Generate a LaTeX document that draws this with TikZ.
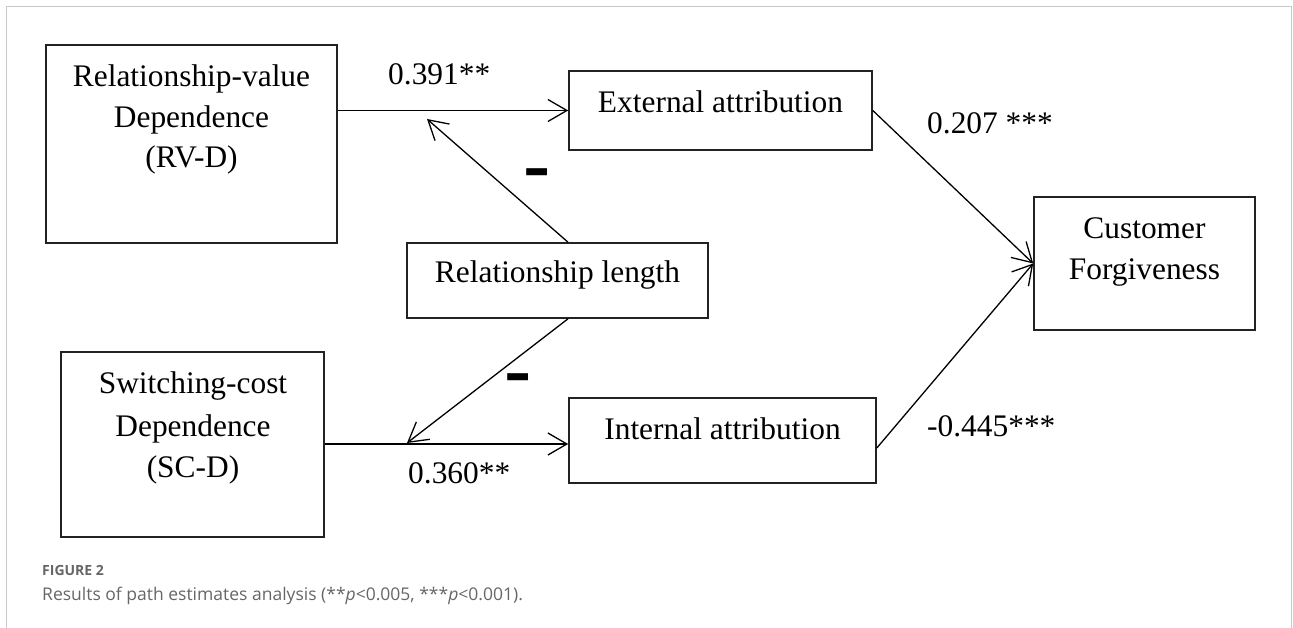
\documentclass[tikz,border=0pt]{standalone}
\usepackage{fontspec}
\usepackage{graphicx}
\setmainfont{Liberation Serif}
\newfontfamily\capfont{Open Sans}
\newfontfamily\dashfont{Liberation Sans}
\usetikzlibrary{arrows.meta}
\definecolor{boxline}{HTML}{222222}
\definecolor{framegray}{HTML}{C8C8C8}
\definecolor{capgray}{HTML}{666666}
\begin{document}
\begin{tikzpicture}[x=1pt,y=-1pt,
  box/.style={draw=boxline,line width=1.6pt,inner sep=0pt},
  txt/.style={font=\fontsize{31.4}{38}\selectfont,anchor=base,inner sep=0pt},
  lbl/.style={font=\fontsize{31.4}{38}\selectfont,anchor=base west,inner sep=0pt},
  conn/.style={line width=1.3pt,draw=black},
  arr/.style={conn,-{Straight Barb[length=19pt,width=22pt,line width=1.3pt]}},
  neg/.style={font=\dashfont\bfseries\fontsize{59}{59}\selectfont,inner sep=0pt,anchor=base west}
]
\useasboundingbox (0,0) rectangle (1293,628);
% frame
\draw[framegray,line width=1.5pt] (6.5,628) -- (6.5,6.5) -- (1291.5,6.5) -- (1291.5,628);

% boxes
\node[box,minimum width=291pt,minimum height=198pt] (rvd) at (191.5,144) {};
\node[box,minimum width=303pt,minimum height=79pt] (ext) at (720.5,110.5) {};
\node[box,minimum width=301pt,minimum height=75pt] (rl) at (557.5,280.5) {};
\node[box,minimum width=221pt,minimum height=133pt] (cf) at (1144.5,263.5) {};
\node[box,minimum width=263pt,minimum height=185pt] (scd) at (192.5,444.5) {};
\node[box,minimum width=307pt,minimum height=85pt] (int) at (722.5,440.5) {};

% box texts
\node[txt] (rvdA) at (191.5,87) {Relationship-value};
\node[txt] (rvdB) at (191.5,127.5) {Dependence};
\node[txt] (rvdC) at (191.5,168) {(RV-D)};
\node[txt] (extA) at (720.5,112.7) {External attribution};
\node[txt] (rlA) at (557.5,283) {Relationship length};
\node[txt] (cfA) at (1144.5,238.3) {Customer};
\node[txt] (cfB) at (1144.5,279.3) {Forgiveness};
\node[txt] (scdA) at (193,393.3) {Switching-cost};
\node[txt] (scdB) at (193,436.5) {Dependence};
\node[txt] (scdC) at (193,477) {(SC-D)};
\node[txt] (intA) at (722.5,439.3) {Internal attribution};

% free ends of moderating arrows
\coordinate (m1) at (427,119);
\coordinate (m2) at (407,443);

% connectors
\draw[arr] (rvd.east |- ext.west) -- (ext.west);
\draw[arr] ([yshift=-3.5pt]int.west -| scd.east) -- ([yshift=-3.5pt]int.west);
\draw[arr] ([xshift=10.5pt]rl.north) -- (m1);
\draw[arr] ([xshift=10.5pt]rl.south) -- (m2);
\draw[arr] (ext.east) -- (cf.west);
\draw[arr] ([yshift=-7.5pt]int.east) -- (cf.west);

% labels
\node[lbl] (l1) at (388,85) {0.391**};
\node[lbl] (l2) at (927,133.3) {0.207 ***};
\node[lbl] (l3) at (408,483.3) {0.360**};
\node[lbl] (l4) at (927,436) {-0.445***};
\node[neg] (n1) at (523.3,187.2) {\scalebox{1.39}[1]{-}};
\node[neg] (n2) at (504.3,392.2) {\scalebox{1.39}[1]{-}};

% caption
\node[anchor=base west,inner sep=0pt,text=capgray,font=\capfont\bfseries\fontsize{14}{14}\selectfont] (fig) at (42,575) {FIGURE 2};
\node[anchor=base west,inner sep=0pt,text=capgray,font=\capfont\fontsize{17.5}{20}\selectfont] (cap) at (42,600) {Results of path estimates analysis (**\textit{p}<0.005, ***\textit{p}<0.001).};
\end{tikzpicture}
\end{document}
